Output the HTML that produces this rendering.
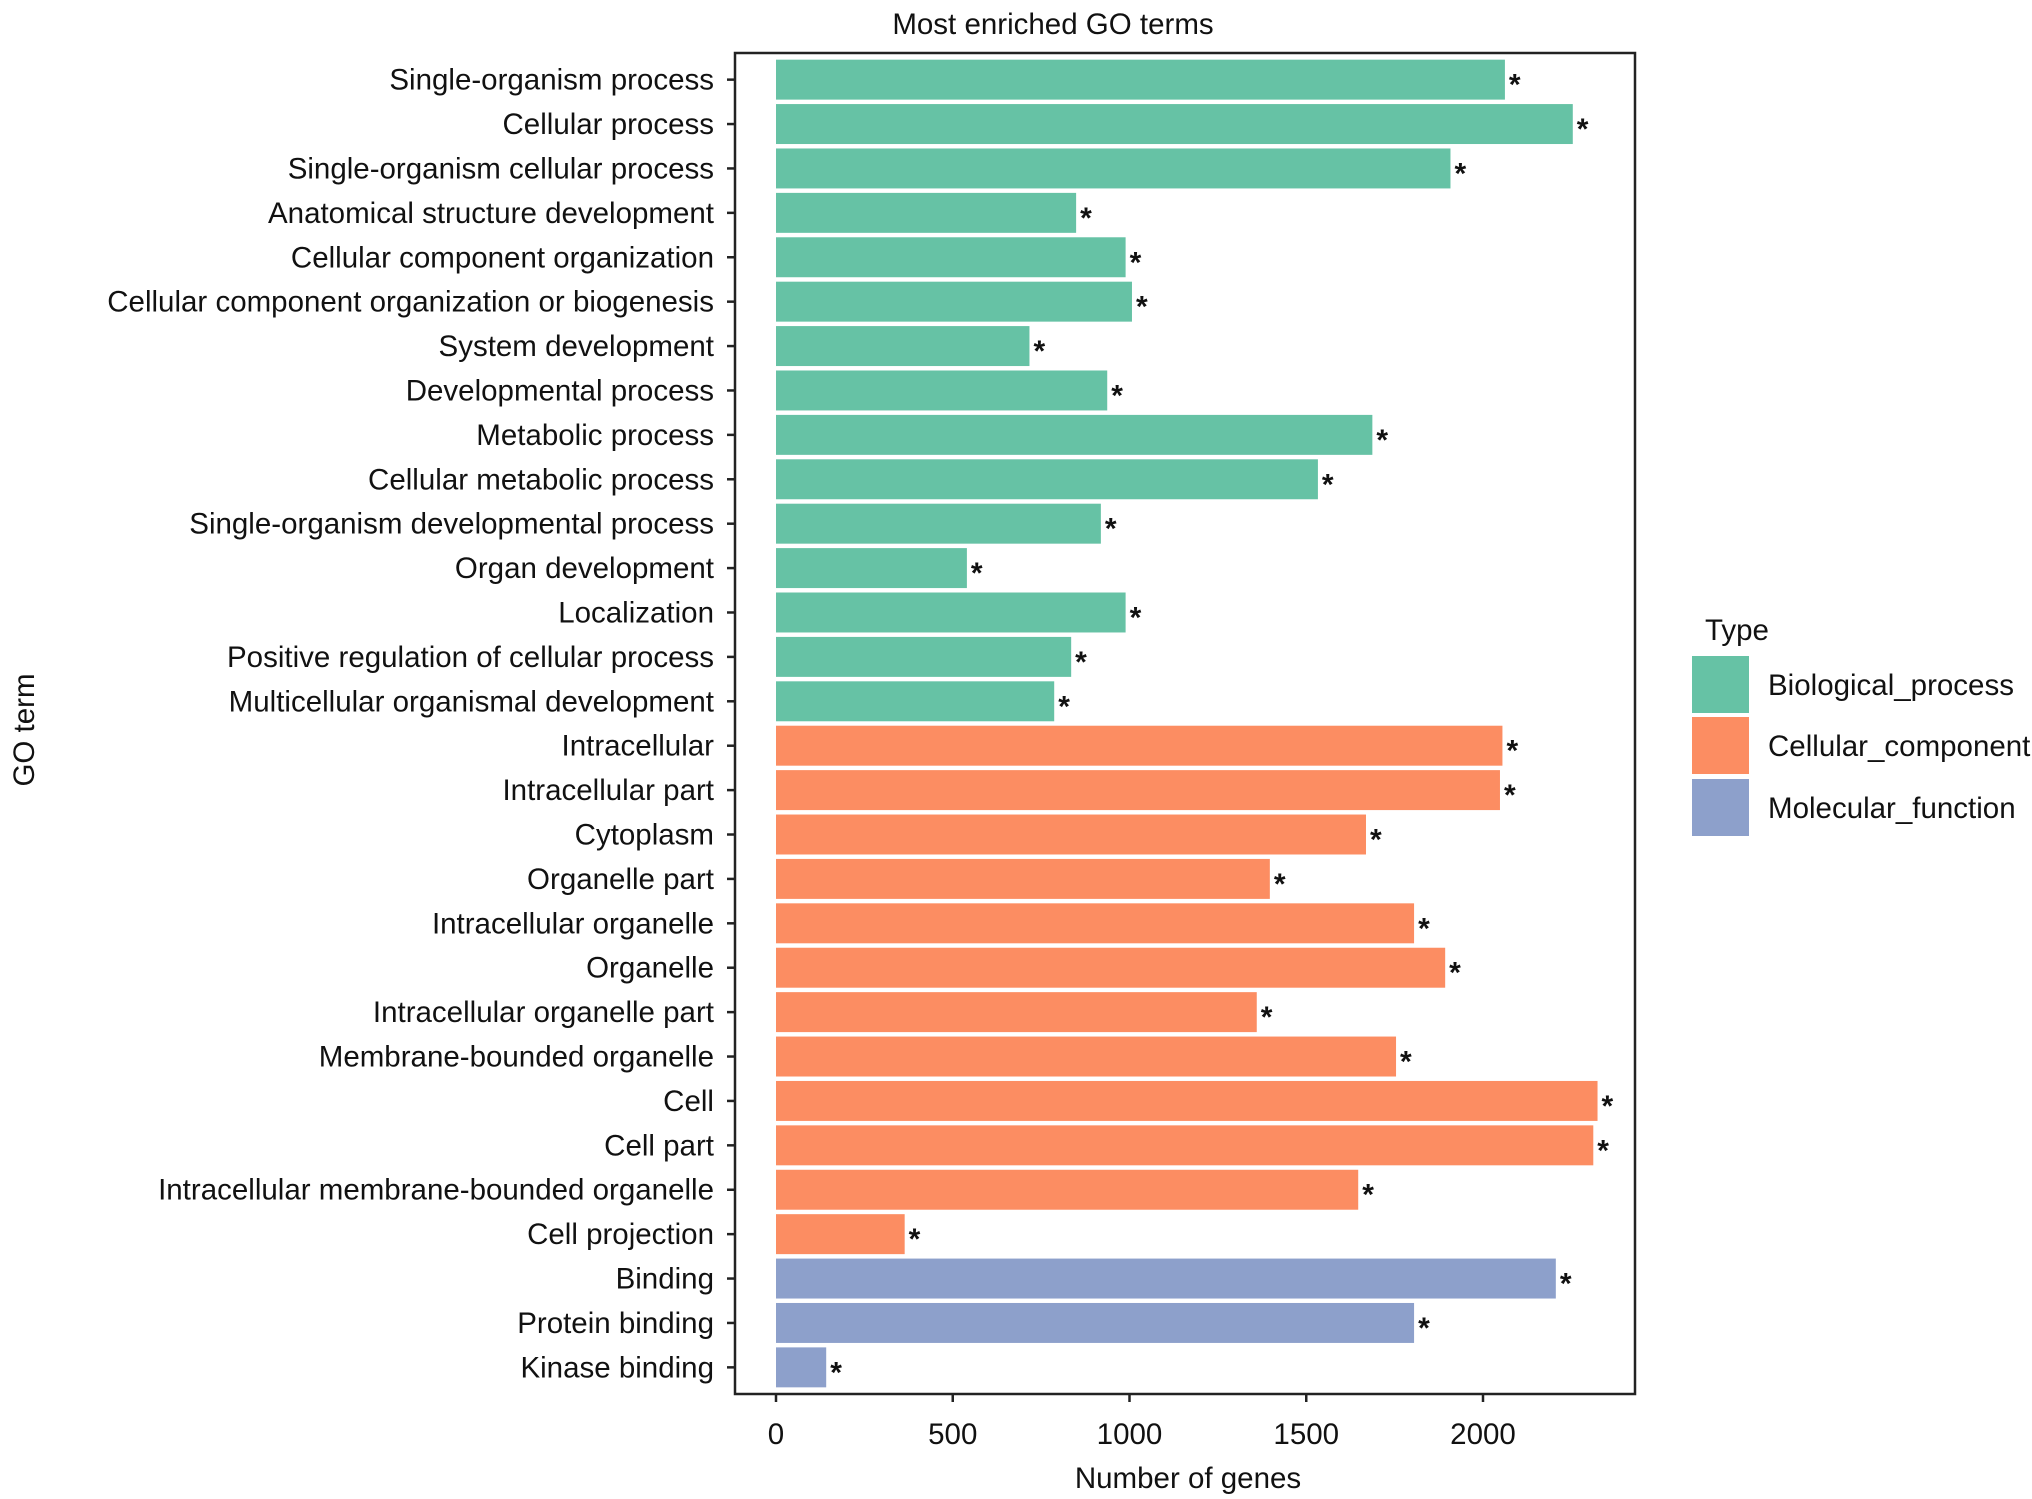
<!DOCTYPE html>
<html><head><meta charset="utf-8"><style>
html,body{margin:0;padding:0;background:#fff;}
svg{display:block;font-family:"Liberation Sans",Arial,sans-serif;}
</style></head><body>
<svg id="chart" width="2032" height="1499" viewBox="0 0 2032 1499" xmlns="http://www.w3.org/2000/svg">
<text x="1053" y="34" font-size="29.5" text-anchor="middle" fill="#111">Most enriched GO terms</text>
<rect x="735" y="53" width="900" height="1341" fill="#fff" stroke="#222" stroke-width="2.5"/>
<g id="bars"></g>
<g id="yaxis"></g>
<g id="xaxis"></g>
<text x="1188" y="1488" font-size="29.5" text-anchor="middle" fill="#111">Number of genes</text>
<text transform="translate(34,730) rotate(-90)" font-size="29.5" text-anchor="middle" fill="#111">GO term</text>
<g>
<text x="1705" y="640" font-size="29.5" fill="#111">Type</text>
<rect x="1692" y="656" width="57" height="57" fill="#66c2a5"/>
<text x="1768" y="695" font-size="29.5" fill="#111">Biological_process</text>
<rect x="1692" y="717" width="57" height="57" fill="#fc8d62"/>
<text x="1768" y="756" font-size="29.5" fill="#111">Cellular_component</text>
<rect x="1692" y="779" width="57" height="57" fill="#8da0cb"/>
<text x="1768" y="818" font-size="29.5" fill="#111">Molecular_function</text>
</g>
</svg>
<script>
const categories = ["Single-organism process","Cellular process","Single-organism cellular process","Anatomical structure development","Cellular component organization","Cellular component organization or biogenesis","System development","Developmental process","Metabolic process","Cellular metabolic process","Single-organism developmental process","Organ development","Localization","Positive regulation of cellular process","Multicellular organismal development","Intracellular","Intracellular part","Cytoplasm","Organelle part","Intracellular organelle","Organelle","Intracellular organelle part","Membrane-bounded organelle","Cell","Cell part","Intracellular membrane-bounded organelle","Cell projection","Binding","Protein binding","Kinase binding"];
const values = [2062,2254,1908,849,989,1007,717,937,1687,1533,919,540,989,835,787,2055,2048,1669,1397,1805,1893,1360,1754,2324,2312,1647,364,2206,1805,142];
const types = ["BP","BP","BP","BP","BP","BP","BP","BP","BP","BP","BP","BP","BP","BP","BP","CC","CC","CC","CC","CC","CC","CC","CC","CC","CC","CC","CC","MF","MF","MF"];
const xTicks = [0,500,1000,1500,2000];
const colorMap = {BP:"#66c2a5",CC:"#fc8d62",MF:"#8da0cb"};
const NS="http://www.w3.org/2000/svg";
const x0=776, pxPerUnit=0.3535;
const xs = v => x0 + v*pxPerUnit;
const panelTop=53, panelH=1341;
const step = panelH/(categories.length+0.2);
const yc = i => panelTop + step*(0.6+i);
const bh = step*0.9;
function mk(tag, attrs, parent){const e=document.createElementNS(NS,tag);for(const k in attrs)e.setAttribute(k,attrs[k]);parent.appendChild(e);return e;}
const bars=document.getElementById('bars'), ya=document.getElementById('yaxis'), xa=document.getElementById('xaxis');
categories.forEach((c,i)=>{
  const r=mk('rect',{x:xs(0),y:yc(i)-bh/2,width:xs(values[i])-xs(0),height:bh,fill:colorMap[types[i]]},bars);
  
  
  const s=mk('text',{x:xs(values[i])+4,y:yc(i)+15,'font-size':'30','font-weight':'bold',fill:'#111'},bars);
  s.textContent='*';
  
  
  const t=mk('line',{x1:727,x2:735,y1:yc(i),y2:yc(i),stroke:'#222','stroke-width':2.5},ya);
  
  
  const l=mk('text',{x:714,y:yc(i)+10,'font-size':'29.5','text-anchor':'end',fill:'#111'},ya);
  l.textContent=c;
  
  
});
xTicks.forEach(v=>{
  const t=mk('line',{x1:xs(v),x2:xs(v),y1:1394,y2:1402,stroke:'#222','stroke-width':2.5},xa);
  
  
  const l=mk('text',{x:xs(v),y:1444,'font-size':'29.5','text-anchor':'middle',fill:'#111'},xa);
  l.textContent=v;
  
  
});
</script>
</body></html>
